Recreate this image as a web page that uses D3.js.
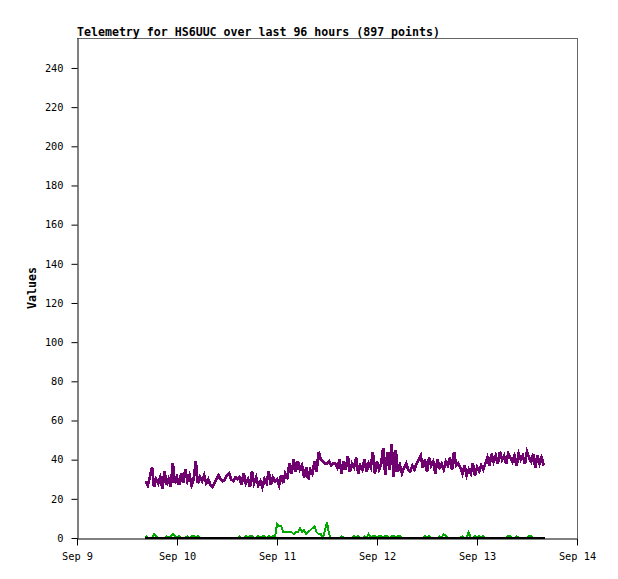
<!DOCTYPE html>
<html><head><meta charset="utf-8">
<script src="https://cdn.jsdelivr.net/npm/d3@7"></script>
<style>body{margin:0;background:#fff}svg{display:block}</style>
</head><body>
<svg id="c" width="618" height="579"></svg>
<script>
const title = "Telemetry for HS6UUC over last 96 hours (897 points)";
const yLabel = "Values";
const xTickHours = [0, 24, 48, 72, 96, 120];
const xTickLabels = ["Sep 9", "Sep 10", "Sep 11", "Sep 12", "Sep 13", "Sep 14"];
const yTicks = [0, 20, 40, 60, 80, 100, 120, 140, 160, 180, 200, 220, 240];
const yMax = 255.3;
const xMax = 120;

// samples every half hour, starting at hour 16.5 after Sep 9 00:00
const startHour = 16.5;
const stepHours = 0.5;

const purpleValues = [
  29, 27, 31, 36, 26, 30, 28, 31, 25, 34, 27, 30, 26, 38, 28,
  31, 27, 33, 28, 35, 29, 32, 27, 30, 39,
  28, 31, 29, 32, 28, 30,
  27, 26, 28, 30, 32, 30, 29, 30, 32, 33, 30, 29, 31, 30,
  31, 27, 33, 28, 30, 26, 34, 28, 31, 27, 29, 26, 30, 28, 34, 27, 31, 29,
  30, 27, 32, 28, 33, 31,
  38, 33, 40, 34, 39, 35,
  37, 31, 36, 30, 35, 33, 39, 34,
  44, 40, 39, 38, 38, 39, 37, 38, 38,
  36, 40, 33, 39, 35, 42, 34, 38, 36, 41, 33, 37, 35, 40, 34, 38, 36, 44, 33, 39, 35, 38,
  46, 32, 44, 35, 48, 31, 45, 34,
  37, 33, 36, 38, 35, 34, 37, 35, 38, 40,
  42, 36, 40, 34, 41, 37, 39, 33, 40, 36, 38, 35, 39, 37, 41, 35, 44, 37, 38,
  36, 33, 37, 32, 35, 33, 38, 32, 36, 34, 37, 35, 38,
  41, 37, 43, 39, 42, 38, 44, 40, 42, 38, 43, 41, 39, 42, 37, 43, 40, 42, 38, 44, 41, 39, 43, 36, 42, 38, 41, 37
];

const greenValues = [
  1,0,0,0,2,1,0,0,0,0,
  1,0,1,2,1,0,1,0,0,0,
  1,0,1,1,0,1,0,0,0,0,
  0,0,0,0,0,0,0,0,0,0,
  0,0,0,0,0,1,0,0,1,0,
  1,1,0,0,1,0,1,1,0,1,
  0,1,0,7,6,6,3,3,3,3,
  3,2,3,3,5,3,4,2,3,4,
  5,6,3,2,2,0,4,8,2,0,
  0,0,0,0,1,0,0,0,0,0,
  1,0,1,0,0,1,0,2,0,1,
  1,0,1,1,0,1,1,0,1,1,
  0,1,1,0,0,0,0,0,0,0,
  0,0,0,0,1,0,1,0,0,0,
  0,1,0,2,1,0,0,0,0,0,
  0,0,1,0,0,3,0,0,1,0,
  1,0,1,0,0,0,0,0,0,0,
  0,0,0,0,1,1,0,0,1,0,
  0,0,0,0,1,1,0,0,0,0,
  0,0
];

const blackHours = [16.3, 112.3];
const blackValues = [0, 0];

const colors = { purple: "#700070", green: "#00aa00", black: "#000000" };

const svg = d3.select("#c");
const m = { left: 77, right: 577, top: 38, bottom: 538 };
const x = d3.scaleLinear().domain([0, xMax]).range([m.left, m.right]);
const y = d3.scaleLinear().domain([0, yMax]).range([m.bottom, m.top]);

const mono = "'DejaVu Sans Mono', 'Liberation Mono', monospace";

// frame: top & right gray
svg.append("line").attr("x1", m.left).attr("x2", m.right).attr("y1", m.top + 0.5).attr("y2", m.top + 0.5)
  .attr("stroke", "#666").attr("stroke-width", 1);
svg.append("line").attr("x1", m.right + 0.5).attr("x2", m.right + 0.5).attr("y1", m.top).attr("y2", m.bottom)
  .attr("stroke", "#666").attr("stroke-width", 1);

const yAxis = d3.axisLeft(y).tickValues(yTicks).tickSize(6).tickSizeOuter(0).tickPadding(8);
const gy = svg.append("g").attr("transform", `translate(${m.left + 0.5},0)`).call(yAxis);
gy.selectAll("text").attr("font-family", mono).attr("font-size", "10.3px").attr("fill", "#000");

const xAxis = d3.axisBottom(x).tickValues(xTickHours).tickSize(7).tickSizeOuter(0).tickPadding(7)
  .tickFormat((d, i) => xTickLabels[i]);
const gx = svg.append("g").attr("transform", `translate(0,${m.bottom + 0.5})`).call(xAxis);
gx.selectAll("text").attr("font-family", mono).attr("font-size", "10.3px").attr("fill", "#000");
svg.selectAll(".domain, .tick line").attr("stroke", "#000").attr("stroke-width", 1);

const line = d3.line().x(d => x(d[0])).y(d => y(d[1]));
const toPts = vals => vals.map((v, i) => [startHour + i * stepHours, v]);

svg.append("path").datum(toPts(purpleValues)).attr("d", line)
  .attr("fill", "none").attr("stroke", colors.purple).attr("stroke-width", 2.8)
  .attr("stroke-linejoin", "miter").attr("shape-rendering", "crispEdges");
svg.append("path").datum(toPts(greenValues)).attr("d", line)
  .attr("fill", "none").attr("stroke", colors.green).attr("stroke-width", 2)
  .attr("shape-rendering", "crispEdges");
svg.append("path").datum(blackHours.map((h, i) => [h, blackValues[i]])).attr("d", line)
  .attr("fill", "none").attr("stroke", colors.black).attr("stroke-width", 2.5)
  .attr("shape-rendering", "crispEdges");

svg.append("text").attr("x", m.left).attr("y", 35.5).text(title)
  .attr("font-family", mono).attr("font-weight", "bold").attr("font-size", "11.6px").attr("fill", "#000");

svg.append("text").attr("transform", `translate(36,${(m.top + m.bottom) / 2}) rotate(-90)`)
  .attr("text-anchor", "middle").text(yLabel)
  .attr("font-family", mono).attr("font-weight", "bold").attr("font-size", "11.6px").attr("fill", "#000");
</script>
</body></html>
